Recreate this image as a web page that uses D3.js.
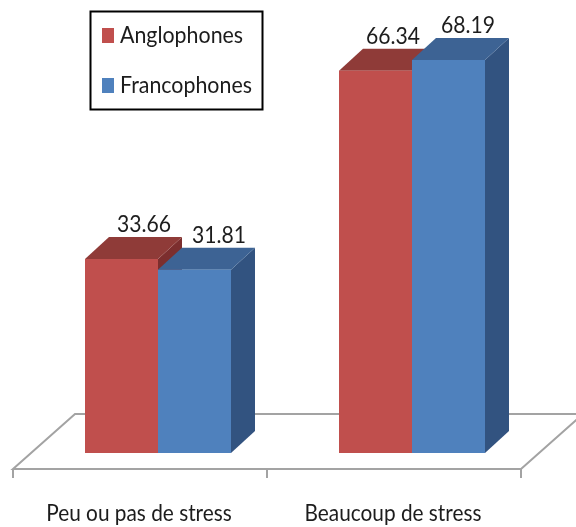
<!DOCTYPE html>
<html><head><meta charset="utf-8">
<script src="https://cdnjs.cloudflare.com/ajax/libs/d3/7.8.5/d3.min.js"></script>
<style>html,body{margin:0;padding:0;background:#fff}svg{display:block}text{font-family:Lato,"Open Sans",sans-serif;fill:#1c1c1c}</style>
</head><body><svg id="c" width="576" height="527"></svg>
<script>
const categories = ["Peu ou pas de stress", "Beaucoup de stress"];
const seriesNames = ["Anglophones", "Francophones"];
const anglophones = [33.66, 66.34];
const francophones = [31.81, 68.19];
const seriesValues = [anglophones, francophones];

const front = ["#C0504D", "#4F81BD"], top_ = ["#8F3A38", "#3C6494"], side = ["#7C2F2D", "#335280"];
const svg = d3.select("#c");
const blur = svg.append("defs").append("filter").attr("id","b").attr("x","-5%").attr("y","-5%").attr("width","110%").attr("height","110%");
blur.append("feGaussianBlur").attr("stdDeviation",0.45);
const root = svg.append("g").attr("filter","url(#b)");

const x0 = d3.scaleBand().domain(categories).range([13, 521]);
const x1 = d3.scaleBand().domain(seriesNames).range([0, 146]);
const y = d3.scaleLinear().domain([0, 68.19]).range([453, 60]);
const barOffset = 72, dx = 24, dy = 22;

function label(px, py, str, size, sx, anchor){
  return root.append("text").attr("transform",`translate(${px},${py}) scale(${sx},1)`)
    .attr("text-anchor",anchor).attr("font-size",size).text(str);
}

// floor
const floorY = 469, backY = 414, fdx = 62;
const grey = "#A3A3A3", xEnd = x0.range()[1];
root.append("path").attr("d", `M${xEnd},${floorY}L13,${floorY}L${13+fdx},${backY}L${xEnd+fdx},${backY}L${xEnd},${floorY}`)
  .attr("fill","#fff").attr("stroke",grey).attr("stroke-width",2);
[...categories.map(c=>x0(c)), xEnd].forEach(t=>{
  root.append("line").attr("x1",t).attr("x2",t).attr("y1",floorY).attr("y2",478).attr("stroke",grey).attr("stroke-width",2);
});

// bars
categories.forEach((c,ci)=>{
  seriesNames.forEach((s,si)=>{
    const v = seriesValues[si][ci];
    const l = x0(c)+barOffset+x1(s), w = x1.bandwidth(), t = y(v), b = y(0), r = l+w;
    const g = root.append("g");
    g.append("polygon").attr("points",`${r},${t} ${r+dx},${t-dy} ${r+dx},${b-dy} ${r},${b}`).attr("fill",side[si]);
    g.append("polygon").attr("points",`${l},${t} ${l+dx},${t-dy} ${r+dx},${t-dy} ${r},${t}`).attr("fill",top_[si]);
    g.append("rect").attr("x",l).attr("y",t).attr("width",w).attr("height",b-t).attr("fill",front[si]);
  });
});
// value labels
categories.forEach((c,ci)=>{
  seriesNames.forEach((s,si)=>{
    const v = seriesValues[si][ci];
    const l = x0(c)+barOffset+x1(s), w = x1.bandwidth();
    label(l+w/2+(ci?18:23)+(si?1.5:-0.5), y(v)-27, v.toFixed(2), 23, 0.92, "middle");
  });
});
// category labels
categories.forEach(c=>{
  label(x0(c)+x0.bandwidth()/2-1, 521, c, 23, 0.905, "middle");
});
// legend
root.append("rect").attr("x",90.5).attr("y",11.5).attr("width",172).attr("height",98).attr("fill","#fff").attr("stroke","#000").attr("stroke-width",2);
seriesNames.forEach((s,i)=>{
  const yy = 28+i*50;
  root.append("rect").attr("x",102).attr("y",yy).attr("width",12).attr("height",15).attr("fill",front[i]);
  label(120, yy+15, s, 23, 0.93, "start");
});
</script></body></html>
